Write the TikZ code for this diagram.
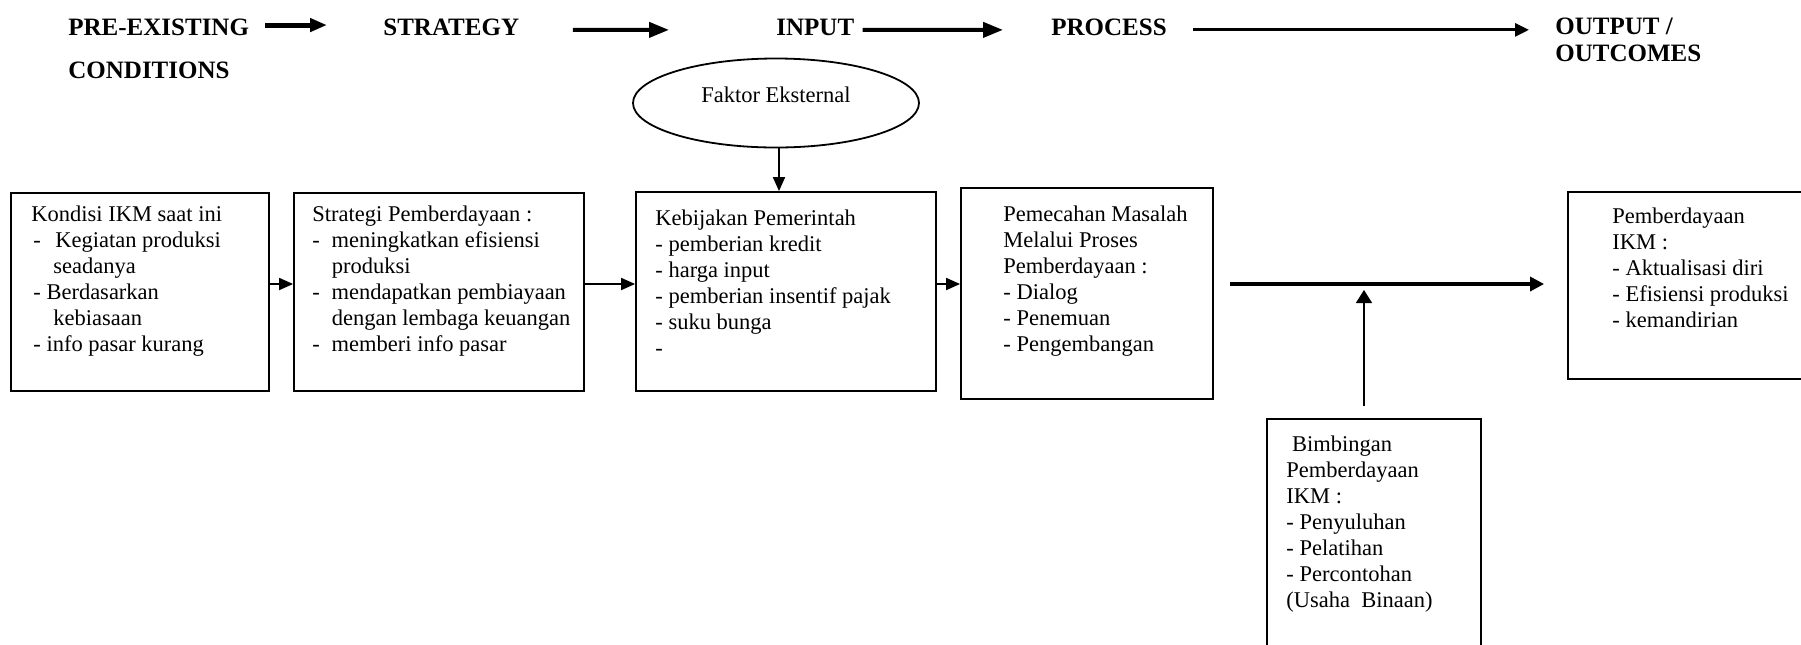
\documentclass[tikz,border=0pt]{standalone}
\usepackage{fontspec}
\setmainfont{Liberation Serif}
\usetikzlibrary{arrows.meta,shapes.geometric,fit}
\newcommand\bodyfont{\fontsize{11.25pt}{13pt}\selectfont}
\newcommand\headfont{\fontsize{12.5pt}{15pt}\selectfont\bfseries}
\begin{document}
\begin{tikzpicture}[x=0.5pt,y=-0.5pt,
  box/.style={draw, line width=0.9pt, inner sep=0pt},
  txt/.style={font=\bodyfont, align=left, inner sep=0pt, anchor=north west},
  head/.style={font=\headfont, inner sep=0pt, anchor=base west},
  sarrow/.style={-{Triangle[length=7pt,width=6pt]}, line width=0.9pt},
  larrow/.style={-{Triangle[length=7pt,width=7pt]}, line width=1.65pt},
  varrow/.style={-{Triangle[length=6.5pt,width=8pt]}, line width=0.8pt}]
\useasboundingbox (0,0) rectangle (1801,644);
\fill[white] (0,0) rectangle (1801,644);

% header
\node[head] (h1) at (68,35) {PRE-EXISTING};
\node[head] (h1b) at (68,78) {CONDITIONS};
\node[head] (h2) at (383,35) {STRATEGY};
\node[head] (h3) at (776,35) {INPUT};
\node[head] (h4) at (1051,35) {PROCESS};
\node[head] (h5) at (1555,34) {OUTPUT /};
\node[head] (h5b) at (1555,61) {OUTCOMES};

\draw[line width=2.5pt, -{Triangle[length=8.5pt,width=6.5pt]}, shorten <=8pt, shorten >=28pt]
  ([yshift=0.9pt]h1.east) -- ([yshift=0.9pt]h2.west);
\draw[line width=2pt, -{Triangle[length=10pt,width=7.5pt]}, shorten <=26.75pt, shorten >=53.5pt]
  ([yshift=-1.5pt]h2.east) -- ([yshift=-1.5pt]h3.west);
\draw[line width=2pt, -{Triangle[length=10pt,width=7.5pt]}, shorten <=4pt, shorten >=24pt]
  ([yshift=-1.5pt]h3.east) -- ([yshift=-1.5pt]h4.west);
\draw[line width=1.5pt, -{Triangle[length=7pt,width=6.5pt]}, shorten <=13pt, shorten >=13pt]
  ([yshift=-1.5pt]h4.east) -- ([yshift=-1.5pt]h4.east -| h5.west);

% ellipse
\node[draw, ellipse, line width=0.9pt, minimum width=143pt, minimum height=44.5pt, inner sep=0pt] (e) at (776,103) {};
\node[font=\bodyfont, inner sep=0pt] (et) at (776,95) {Faktor Eksternal};

% boxes
\node[box, fit={(11,193) (269,391)}] (b1) {};
\node[box, fit={(294,193) (584,391)}] (b2) {};
\node[box, fit={(636,192) (936,391)}] (b3) {};
\node[box, fit={(961,188) (1213,399)}] (b4) {};
\node[box, fit={(1568,192) (1812,379)}] (b5) {};
\node[box, fit={(1267,419) (1481,660)}] (b6) {};

\node[txt] (t1) at (31,205) {Kondisi IKM saat ini\\
\hspace*{1pt}-\hspace*{7.2pt}Kegiatan produksi\\
\hspace*{11pt}seadanya\\
\hspace*{1pt}- Berdasarkan\\
\hspace*{11pt}kebiasaan\\
\hspace*{1pt}- info pasar kurang};

\node[txt] (t2) at (312,205) {Strategi Pemberdayaan :\\
-\hspace*{5.9pt}meningkatkan efisiensi\\
\hspace*{9.7pt}produksi\\
-\hspace*{5.9pt}mendapatkan pembiayaan\\
\hspace*{9.7pt}dengan lembaga keuangan\\
-\hspace*{5.9pt}memberi info pasar};

\node[txt] (t3) at (655,209) {Kebijakan Pemerintah\\
- pemberian kredit\\
- harga input\\
- pemberian insentif pajak\\
- suku bunga\\
-};

\node[txt] (t4) at (1003,205) {Pemecahan Masalah\\
Melalui Proses\\
Pemberdayaan :\\
- Dialog\\
- Penemuan\\
- Pengembangan};

\node[txt] (t5) at (1612,207) {Pemberdayaan\\
IKM :\\
- Aktualisasi diri\\
- Efisiensi produksi\\
- kemandirian};

\node[txt] (t6) at (1286,435) {\hspace*{2.9pt}Bimbingan\\
Pemberdayaan\\
IKM :\\
- Penyuluhan\\
- Pelatihan\\
- Percontohan\\
(Usaha\ \ Binaan)};

% connectors
\coordinate (row) at (0,284);
\draw[sarrow] (b1.east |- row) -- (b2.west |- row);
\draw[sarrow] (b2.east |- row) -- (b3.west |- row);
\draw[sarrow] (b3.east |- row) -- (b4.west |- row);
\coordinate (ex) at (779,0);
\draw[sarrow] (e.south -| ex) -- (b3.north -| ex);
\coordinate (ls) at (1230,284);
\draw[larrow, shorten >=11.5pt] (ls) -- (b5.west |- ls);
\coordinate (vt) at (1364,290);
\draw[varrow, shorten <=6pt] (b6.north -| vt) -- (vt);
\end{tikzpicture}
\end{document}
